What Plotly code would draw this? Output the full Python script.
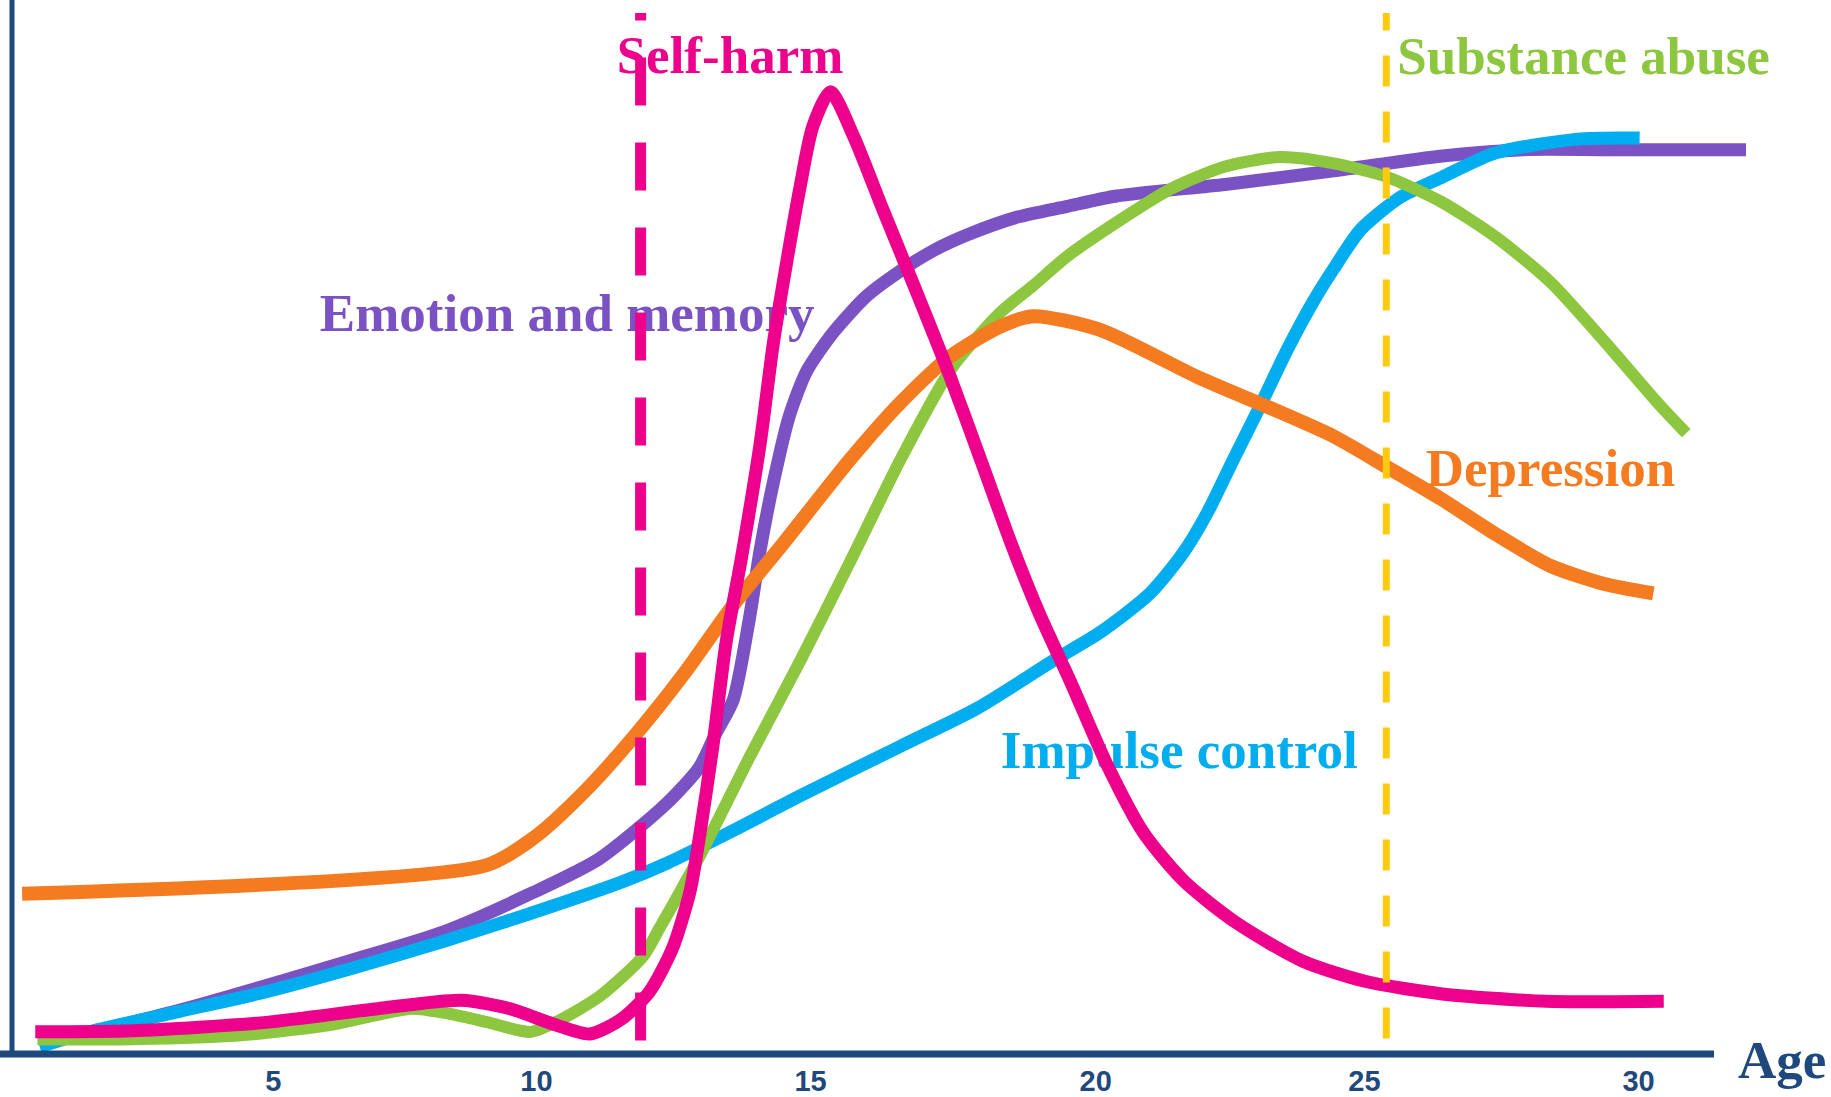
import plotly.graph_objects as go

# -- Data (age in years, level in arbitrary 0-100 units) ----------------------

depression_age = [0.52, 8.98, 9.85, 10.74, 11.66, 12.58, 13.49, 14.41, 15.62, 16.54,
                  17.45, 18.35, 18.96, 20.18, 21.97, 23.46, 24.44, 25.44, 26.42,
                  27.40, 28.40, 29.38, 30.27]
depression_lvl = [15.2, 17.9, 20.5, 24.7, 30.0, 36.0, 42.6, 48.5, 56.4, 61.8,
                  66.2, 69.0, 70.0, 68.7, 64.2, 60.9, 58.6, 55.6, 52.6,
                  49.3, 46.3, 44.6, 43.7]

emotion_age = [0.84, 3.35, 6.59, 8.21, 9.83, 11.04, 12.28, 12.87, 13.17, 13.49,
               13.79, 13.98, 14.22, 14.51, 14.83, 15.32, 15.92, 16.54, 17.13,
               17.75, 18.67, 19.56, 20.48, 22.46, 24.44, 26.42, 27.89, 29.38, 31.96]
emotion_lvl = [0.9, 4.1, 9.0, 11.6, 15.3, 18.5, 23.8, 27.2, 30.4, 33.6,
               41.5, 47.8, 54.2, 60.5, 64.8, 68.5, 71.9, 74.3, 76.2,
               77.7, 79.4, 80.4, 81.4, 82.5, 83.8, 85.2, 85.8, 85.8, 85.8]

impulse_age = [0.84, 1.74, 3.35, 4.97, 6.59, 8.21, 9.83, 11.45, 12.28, 13.49,
               14.71, 16.54, 17.94, 19.35, 20.18, 21.09, 21.69, 22.14, 22.61,
               23.10, 23.59, 24.08, 24.44, 24.93, 25.63, 26.42, 27.40, 28.89, 30.02]
impulse_lvl = [0.7, 2.1, 4.0, 5.9, 8.2, 10.7, 13.4, 16.3, 18.1, 21.2,
               24.5, 29.2, 32.8, 37.4, 40.0, 43.7, 47.5, 51.4, 56.4,
               61.5, 66.8, 71.5, 74.5, 78.2, 81.2, 83.2, 85.5, 86.8, 86.9]

selfharm_age = [0.76, 2.54, 4.97, 7.00, 8.53, 9.42, 10.23, 10.87, 11.45, 11.96,
                12.38, 12.70, 12.87, 13.11, 13.36, 13.64, 13.98, 14.22, 14.47,
                14.71, 14.94, 15.26, 15.69, 16.22, 16.84, 17.45, 18.05, 18.56,
                19.07, 19.65, 20.31, 20.97, 21.71, 22.65, 23.88, 25.01, 26.42,
                28.31, 30.46]
selfharm_lvl = [2.1, 2.2, 3.0, 4.3, 5.1, 4.3, 2.8, 1.9, 3.3, 5.9,
                10.0, 15.4, 20.5, 28.9, 39.1, 47.1, 57.9, 67.4, 75.3,
                82.3, 88.0, 91.3, 87.0, 80.1, 72.2, 64.2, 55.7, 48.4,
                41.8, 35.2, 27.4, 21.0, 16.4, 12.5, 8.8, 6.9, 5.7,
                5.0, 5.0]

substance_age = [0.80, 2.54, 4.57, 6.19, 7.63, 8.32, 9.02, 9.79, 10.32, 11.06,
                 11.85, 12.15, 12.51, 12.87, 13.79, 14.71, 15.60, 16.54, 17.45,
                 18.35, 18.96, 19.56, 20.48, 21.48, 22.46, 23.46, 24.44, 25.42,
                 26.42, 27.40, 28.40, 29.38, 30.38, 30.87]
substance_lvl = [1.4, 1.4, 1.8, 2.8, 4.3, 3.8, 3.0, 2.1, 3.2, 5.5,
                 9.3, 12.0, 15.3, 18.7, 28.2, 37.3, 46.5, 56.4, 64.9,
                 70.3, 72.9, 75.6, 78.9, 82.1, 84.2, 85.1, 84.5, 83.2,
                 80.8, 77.5, 73.2, 67.6, 61.6, 58.9]

selfharm_onset = 11.8      # dashed marker for self-harm
substance_onset = 25.4     # dashed marker for substance abuse

# tick labels sit slightly unevenly in the original drawing
tick_text = ["5", "10", "15", "20", "25", "30"]
tick_pos = [5.1, 9.9, 14.9, 20.1, 25.0, 30.0]

NAVY = "#1F497D"
ORANGE = "#F47B20"
PURPLE = "#7B52C4"
CYAN = "#00ADEF"
MAGENTA = "#EC008C"
GREEN = "#8DC63F"
YELLOW = "#FFC90E"

W, H = 1831, 1097
BOTTOM = 43
LABEL_FONT = "Liberation Serif, Times New Roman, serif"


def px_x(p):
    return p / W


def px_y(p):
    return (H - BOTTOM - p) / (H - BOTTOM)


fig = go.Figure()


# labels first, so the curves and dashes are drawn over them like in the original
def label(text, x, y, color, pos="middle right"):
    fig.add_trace(go.Scatter(
        x=[x], y=[y], mode="text", text=[text], textposition=pos,
        hoverinfo="skip", showlegend=False, cliponaxis=False,
        textfont=dict(family=LABEL_FONT, size=53, color=color, weight="bold"),
    ))


label("Self-harm", 13.43, 94.35, MAGENTA, "middle center")
label("Substance abuse", 25.60, 94.25, GREEN)
label("Emotion and memory", 5.95, 69.85, PURPLE)
label("Depression", 26.12, 55.15, ORANGE)
label("Impulse control", 18.37, 28.35, CYAN)


def curve(x, y, color, width):
    fig.add_trace(go.Scatter(
        x=x, y=y, mode="lines", hoverinfo="skip", showlegend=False,
        line=dict(color=color, width=width, shape="spline", smoothing=0.7),
    ))


curve(emotion_age, emotion_lvl, PURPLE, 13)
curve(impulse_age, impulse_lvl, CYAN, 13)
curve(substance_age, substance_lvl, GREEN, 12)
curve(depression_age, depression_lvl, ORANGE, 14)
curve(selfharm_age, selfharm_lvl, MAGENTA, 13)

# dashed onset markers, drawn bottom-up so the dash pattern starts at the bottom
fig.add_trace(go.Scatter(
    x=[selfharm_onset, selfharm_onset], y=[1.27, 98.77], mode="lines",
    hoverinfo="skip", showlegend=False,
    line=dict(color=MAGENTA, width=11, dash="48px,37px"),
))
fig.add_trace(go.Scatter(
    x=[substance_onset, substance_onset], y=[1.46, 98.77], mode="lines",
    hoverinfo="skip", showlegend=False,
    line=dict(color=YELLOW, width=7, dash="31px,25px"),
))

# axis lines
fig.add_shape(type="line", xref="paper", yref="paper",
              x0=0, x1=px_x(1714), y0=0, y1=0,
              line=dict(color=NAVY, width=7))
fig.add_shape(type="line", xref="paper", yref="paper",
              x0=px_x(12), x1=px_x(12), y0=0, y1=1,
              line=dict(color=NAVY, width=5))

fig.add_annotation(
    text="Age", xref="paper", yref="paper", x=px_x(1828), y=px_y(1060),
    xanchor="right", yanchor="middle", showarrow=False,
    font=dict(family=LABEL_FONT, size=53, color=NAVY, weight="bold"),
)

fig.update_layout(
    width=W, height=H,
    margin=dict(l=0, r=0, t=0, b=BOTTOM, pad=0),
    paper_bgcolor="white", plot_bgcolor="white",
    xaxis=dict(
        range=[0.1167, 33.51], showgrid=False, zeroline=False, showline=False,
        tickvals=tick_pos, ticktext=tick_text,
        ticks="outside", ticklen=1, tickcolor="rgba(0,0,0,0)",
        tickfont=dict(family="Liberation Sans Narrow, Arial Narrow, sans-serif",
                      size=29, color=NAVY, weight="bold"),
        automargin=False, fixedrange=True,
    ),
    yaxis=dict(
        range=[0, 100], showgrid=False, zeroline=False, showline=False,
        showticklabels=False, automargin=False, fixedrange=True,
    ),
)

# the page's default body margin would shift the figure by 8px
fig.write_html("out.html", config={"displayModeBar": False},
               post_script="document.body.style.margin = '0';")
